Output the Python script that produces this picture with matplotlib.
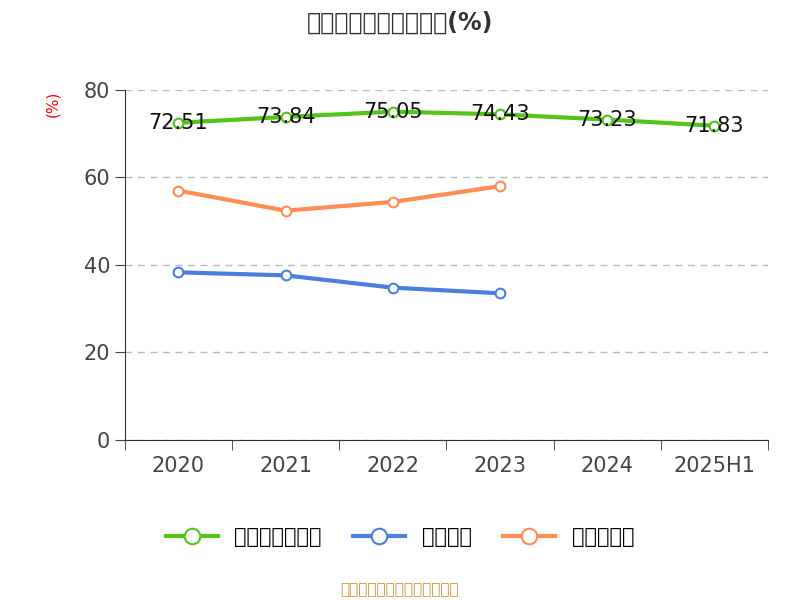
import matplotlib
matplotlib.use("Agg")
import matplotlib.pyplot as plt
from matplotlib import font_manager as fm
import glob

categories = ["2020", "2021", "2022", "2023", "2024", "2025H1"]
company = [72.51, 73.84, 75.05, 74.43, 73.23, 71.83]
industry_avg = [38.3, 37.6, 34.8, 33.5]
industry_median = [57.0, 52.4, 54.4, 58.0]
yticks = [0, 20, 40, 60, 80]

cjk = None
for f in fm.fontManager.ttflist:
    if "CJK" in f.name and ("SC" in f.name or cjk is None):
        cjk = f.name
if cjk is None:
    files = glob.glob("/usr/share/fonts/**/*CJK*", recursive=True)
    if files:
        fm.fontManager.addfont(files[0])
        cjk = fm.FontProperties(fname=files[0]).get_name()
plt.rcParams["font.family"] = ["DejaVu Sans"] + ([cjk] if cjk else [])
plt.rcParams["font.sans-serif"] = ["DejaVu Sans"] + ([cjk] if cjk else [])
plt.rcParams["font.family"] = "sans-serif"

fig = plt.figure(figsize=(8, 6), dpi=100)
ax = fig.add_axes([0.156, 0.267, 0.804, 0.583])

x = list(range(len(categories)))
ax.plot(x, company, color="#52c41a", lw=3, marker="o", ms=7, mfc="white", mew=1.5, label="公司资产负债率", zorder=3)
ax.plot(x[:4], industry_avg, color="#4a7fe0", lw=3, marker="o", ms=7, mfc="white", mew=1.5, label="行业均值", zorder=3)
ax.plot(x[:4], industry_median, color="#ff8c55", lw=3, marker="o", ms=7, mfc="white", mew=1.5, label="行业中位数", zorder=3)
for xi, v in zip(x, company):
    ax.text(xi, v, f"{v:.2f}", ha="center", va="center", fontsize=15, color="#111111", zorder=4)

ax.set_xlim(-0.5, 5.5)
ax.set_ylim(0, 80)
ax.set_yticks(yticks)
ax.set_xticks(x)
ax.set_xticklabels(categories)
ax.set_xticks([i - 0.5 for i in range(7)], minor=True)
ax.tick_params(axis="x", which="major", length=0, labelsize=15, colors="#444444", pad=12)
ax.tick_params(axis="x", which="minor", length=7, color="#333333")
ax.tick_params(axis="y", length=7, labelsize=15, colors="#444444")
ax.grid(axis="y", ls=(0, (5, 4)), color="#bbbbbb", lw=1)
for s in ["top", "right"]:
    ax.spines[s].set_visible(False)
ax.spines["left"].set_color("#333333")
ax.spines["bottom"].set_color("#333333")
ax.set_ylabel("(%)", color="red", fontsize=11)
ax.yaxis.set_label_coords(-0.1, 0.96)

fig.text(0.5, 0.962, "近年来资产负债率情况(%)", ha="center", va="center", fontsize=17, fontweight="bold", color="#333333")
fig.legend(loc="center", bbox_to_anchor=(0.5, 0.105), ncol=3, frameon=False, fontsize=15,
           handlelength=2.5, columnspacing=1.5, markerscale=1.6)
fig.text(0.5, 0.018, "制图数据来自恒生聚源数据库", ha="center", va="center", fontsize=11, color="#c8962e")
fig.savefig("out.png", dpi=100)
